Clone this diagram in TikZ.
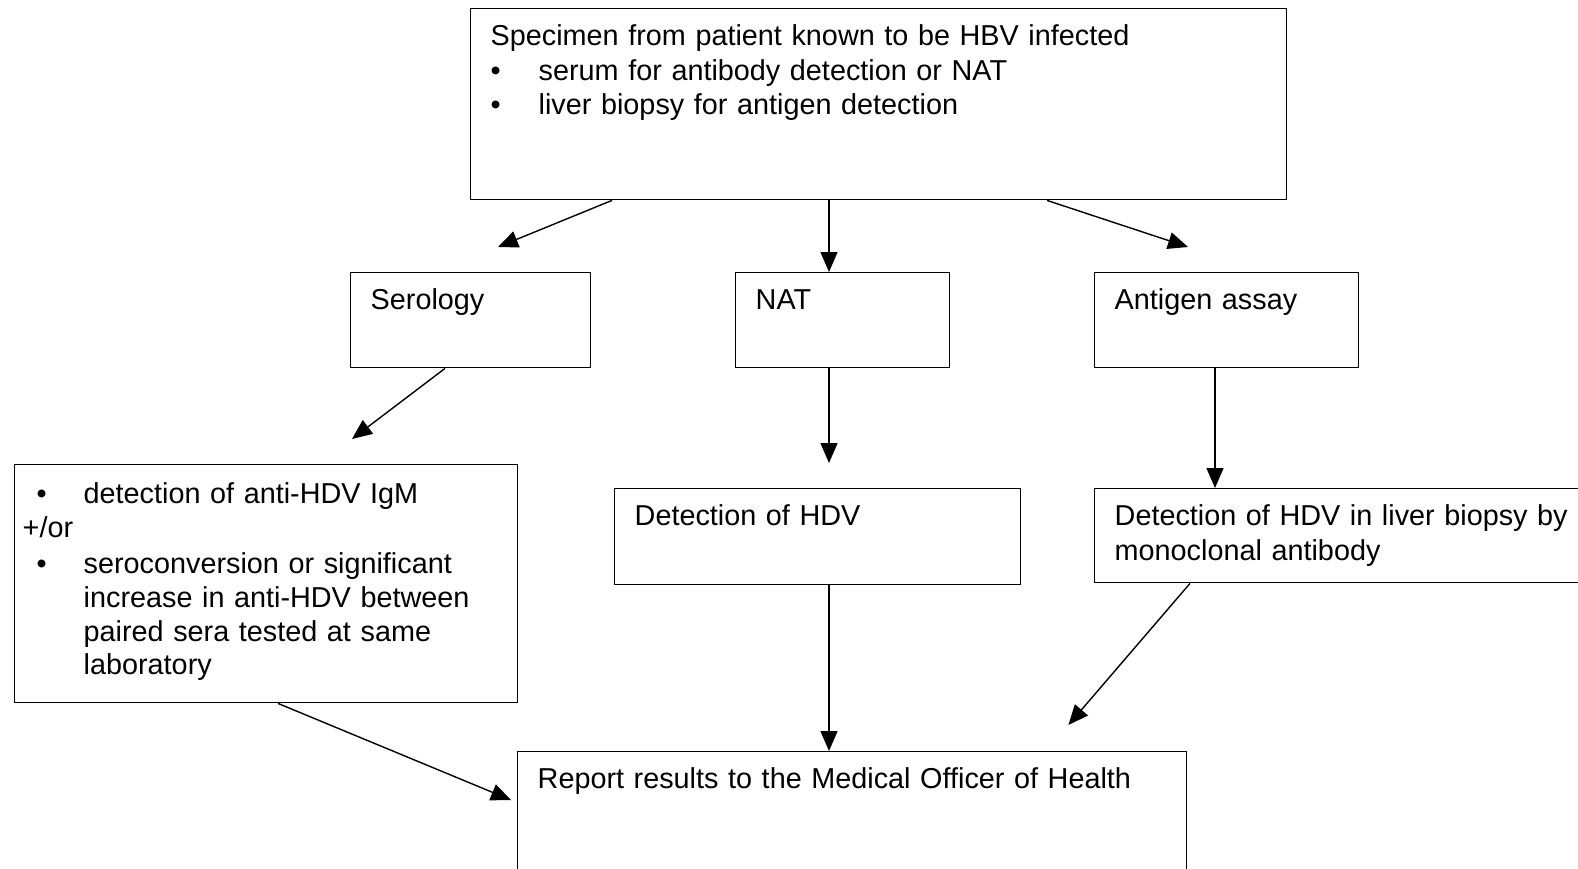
\documentclass[tikz,border=0pt]{standalone}
\usepackage{fontspec}
\setmainfont{Liberation Sans}
\usepackage{tikz}
\usetikzlibrary{arrows.meta, calc}

\newcommand{\bul}[1]{\makebox[#1][l]{\textbullet}}

\begin{document}
\begin{tikzpicture}[x=1pt, y=-1pt,
    box/.style={draw, line width=1.4pt, anchor=north west, align=left,
      inner xsep=20pt, inner ysep=0pt, text height=37pt,
      font=\fontsize{28.8}{34.5}\selectfont},
    arr/.style={line width=1.4pt, -{Triangle[length=20pt, width=17pt]}}]
  \useasboundingbox (0, 0) rectangle (1578, 869);

  % specimen
  \node[box, text width=776pt, text depth=154pt] (spec) at (470, 8)
    {Specimen from patient known to be HBV infected\\
     \bul{48pt}serum for antibody detection or NAT\\
     \bul{48pt}liver biopsy for antigen detection};

  % three methods
  \node[box, text width=200pt, text depth=58pt] (sero) at (350, 272) {Serology};
  \node[box, text width=174pt, text depth=58pt] (nat) at (735, 272) {NAT};
  \node[box, text width=224pt, text depth=58pt] (antigen) at (1094, 272) {Antigen assay};

  % results
  \node[box, inner xsep=8pt, text height=39pt, text width=487pt, text depth=199pt,
        font=\fontsize{28.8}{33.6}\selectfont] (crit) at (14, 464)
    {\hspace*{14pt}\bul{47pt}detection of anti-HDV IgM\\
     +/or\\[3pt]
     \hspace*{14pt}\bul{47pt}seroconversion or significant\\
     \hspace*{61pt}increase in anti-HDV between\\
     \hspace*{61pt}paired sera tested at same\\
     \hspace*{61pt}laboratory};
  \node[box, text width=366pt, text depth=59pt] (dethdv) at (614, 488) {Detection of HDV};
  \node[box, text width=480pt, text depth=57pt] (liver) at (1094, 488)
    {Detection of HDV in liver biopsy by\\monoclonal antibody};

  % report
  \node[box, text width=629pt, text depth=113pt] (report) at (517, 751)
    {Report results to the Medical Officer of Health};

  % connectors
  \draw[arr] ([xshift=142pt]spec.south west) -- ([xshift=148pt, yshift=25pt]sero.north west);
  \draw[arr] ([xshift=94pt]nat.north west |- spec.south) -- ([xshift=94pt]nat.north west);
  \draw[arr] ([xshift=577pt]spec.south west) -- ([xshift=94pt, yshift=25pt]antigen.north west);

  \draw[arr] ([xshift=95pt]sero.south west) -- ([xshift=338pt, yshift=25pt]crit.north west);
  \draw[arr] ([xshift=94pt]nat.south west) -- ([xshift=215pt, yshift=25pt]dethdv.north west);
  \draw[arr] ([xshift=121pt]antigen.south west) -- ([xshift=121pt]liver.north west);

  \draw[arr] ([xshift=264pt]crit.south west) -- ([xshift=-6pt, yshift=-49pt]report.north west);
  \draw[arr] ([xshift=215pt]dethdv.south west) -- ([xshift=312pt]report.north west);
  \draw[arr] ([xshift=96pt]liver.south west) -- ([xshift=-119pt, yshift=26pt]report.north east);
\end{tikzpicture}
\end{document}
